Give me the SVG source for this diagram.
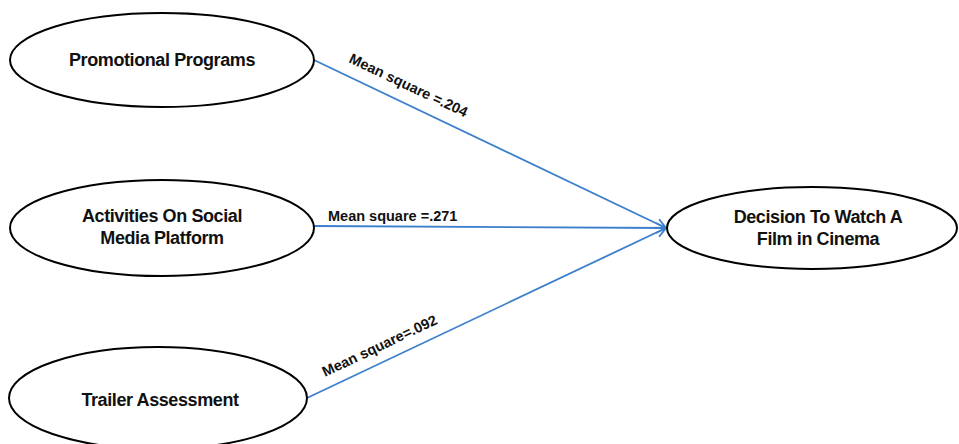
<svg xmlns="http://www.w3.org/2000/svg" width="959" height="444" viewBox="0 0 959 444">
<style>
.node ellipse{fill:#fff;stroke:#000;stroke-width:2}
.node text{font-family:"Liberation Sans",Arial,sans-serif;font-weight:bold;font-size:18px;fill:#111;text-anchor:middle;letter-spacing:-0.4px}
.conn line{stroke:#3b7fcc;stroke-width:1.8;fill:none}
.lbl{font-family:"Liberation Sans",Arial,sans-serif;font-weight:bold;font-size:14.5px;fill:#111}
</style>
<defs>
<marker id="arr" viewBox="0 0 12 12" refX="11" refY="6" markerWidth="12" markerHeight="12" markerUnits="userSpaceOnUse" orient="auto">
<path d="M1,1 L11,6 L1,11" fill="none" stroke="#3b7fcc" stroke-width="1.8"/>
</marker>
</defs>
<rect width="959" height="444" fill="#fff"/>
<g class="conn">
<line x1="314" y1="60" x2="666" y2="228" marker-end="url(#arr)"/>
<line x1="314" y1="226" x2="666" y2="228" marker-end="url(#arr)"/>
<line x1="307" y1="398" x2="666" y2="228" marker-end="url(#arr)"/>
<text class="lbl" transform="translate(348,62) rotate(25.4)">Mean square =.204</text>
<text class="lbl" x="328" y="221">Mean square =.271</text>
<text class="lbl" transform="translate(325,377) rotate(-25.3)">Mean square=.092</text>
</g>
<g class="node" id="promo">
<ellipse cx="162" cy="60" rx="152" ry="47"/>
<text x="162" y="66">Promotional Programs</text>
</g>
<g class="node" id="social">
<ellipse cx="162" cy="228" rx="152" ry="48"/>
<text x="162" y="222">Activities On Social</text>
<text x="162" y="244">Media Platform</text>
</g>
<g class="node" id="trailer">
<ellipse cx="158" cy="398" rx="149" ry="51"/>
<text x="160" y="406">Trailer Assessment</text>
</g>
<g class="node" id="decision">
<ellipse cx="812" cy="228" rx="145" ry="41"/>
<text x="818" y="223">Decision To Watch A</text>
<text x="818" y="245">Film in Cinema</text>
</g>
</svg>
